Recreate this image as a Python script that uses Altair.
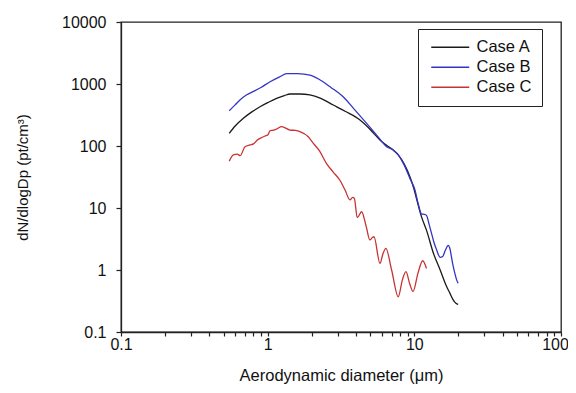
import altair as alt
import pandas as pd

series_names = ["Case A", "Case B", "Case C"]
series_colors = ["#1a1a1a", "#3434c4", "#c83232"]

case_a_x = [0.547, 0.6, 0.683, 0.78, 0.887, 1.0, 1.15, 1.3, 1.42, 1.66, 1.94, 2.28, 2.8, 3.4, 4.26, 5.0,
            5.83, 6.5, 7.18, 7.77, 8.5, 9.33, 9.9, 10.4, 11.2, 12.1, 13.5, 15.0, 16.6, 17.5, 18.4, 19.2, 19.9]
case_a_y = [160, 210, 280, 355, 430, 500, 587, 650, 690, 690, 665, 590, 458, 360, 262, 185,
            125, 102, 86, 72, 52, 32, 21, 13.5, 7.2, 4.4, 1.86, 1.0, 0.54, 0.42, 0.33, 0.29, 0.28]

case_b_x = [0.547, 0.6, 0.647, 0.72, 0.8, 0.9, 1.04, 1.2, 1.35, 1.6, 1.94, 2.28, 2.7, 3.27, 3.9, 4.73,
            5.5, 6.47, 7.1, 7.77, 8.5, 9.33, 10.1, 10.6, 11.2, 11.7, 12.1, 12.6, 13.1, 13.6, 14.2, 15.0,
            15.6, 16.3, 17.0, 17.5, 17.9, 18.4, 18.9, 19.4, 19.9]
case_b_y = [371, 460, 552, 670, 760, 880, 1088, 1290, 1470, 1465, 1390, 1160, 880, 623, 390, 232,
            153, 97.5, 88, 72, 50, 30, 19.5, 12, 8.0, 7.9, 7.6, 5.5, 3.9, 2.8, 2.1, 1.6,
            1.65, 2.1, 2.5, 2.2, 1.64, 1.15, 0.88, 0.7, 0.61]

case_c_x = [0.547, 0.583, 0.62, 0.65, 0.70, 0.757, 0.80, 0.85, 0.887, 0.96, 1.0, 1.04, 1.1, 1.15, 1.246,
            1.42, 1.55, 1.66, 1.89, 2.05, 2.25, 2.52, 2.8, 3.11, 3.37, 3.64, 3.8, 3.9, 4.08, 4.37, 4.7,
            4.98, 5.15, 5.31, 5.83, 6.1, 6.40, 7.0, 7.77, 8.3, 8.77, 9.3, 9.8, 10.6, 11.4, 12.1]
case_c_y = [57, 72, 74, 70, 97, 104, 108, 125, 133, 145, 150, 177, 180, 188, 205,
            181, 178, 170, 141, 110, 84, 52, 38, 28, 19.5, 13.5, 14.8, 14.3, 7.0, 8.7, 5.0,
            3.05, 3.3, 3.44, 1.28, 1.8, 2.24, 1.0, 0.37, 0.7, 0.94, 0.6, 0.45, 0.9, 1.41, 1.06]

x_ticks = [0.1, 0.2, 0.3, 0.4, 0.5, 0.6, 0.7, 0.8, 0.9,
           1, 2, 3, 4, 5, 6, 7, 8, 9,
           10, 20, 30, 40, 50, 60, 70, 80, 90, 100]
y_ticks = [0.1, 1, 10, 100, 1000, 10000]

rows = []
for name, xs, ys in [("Case A", case_a_x, case_a_y),
                     ("Case B", case_b_x, case_b_y),
                     ("Case C", case_c_x, case_c_y)]:
    for i, (xv, yv) in enumerate(zip(xs, ys)):
        rows.append({"series": name, "d": xv, "n": yv, "i": i})
df = pd.DataFrame(rows)

FONT = "Liberation Sans"

chart = alt.Chart(df).mark_line(strokeWidth=1.3, interpolate="monotone").encode(
    x=alt.X("d:Q",
            scale=alt.Scale(type="log", domain=[0.1, 100], nice=False),
            axis=alt.Axis(values=x_ticks,
                          title="Aerodynamic diameter (\u03bcm)",
                          labelExpr="abs(log(datum.value)/LN10 - round(log(datum.value)/LN10)) < 1e-6 ? format(datum.value, '~g') : ''",
                          labelOverlap=False, labelFlush=False,
                          labelOffset={"condition": {"test": "datum.value >= 99", "value": -6}, "value": 0},
                          tickSize=4, labelPadding=0, labelFontSize=16,
                          titleY=35, titleBaseline="top", titleFontSize=16.5,
                          grid=False)),
    y=alt.Y("n:Q",
            scale=alt.Scale(type="log", domain=[0.1, 10000], nice=False),
            axis=alt.Axis(values=y_ticks, format="~g",
                          title="dN/dlogDp (pt/cm\u00b3)",
                          labelOverlap=False, labelFlush=False,
                          tickSize=5, labelPadding=10, labelFontSize=16,
                          titleX=-91, titleY=155, titleFontSize=15,
                          grid=False)),
    color=alt.Color("series:N",
                    scale=alt.Scale(domain=series_names, range=series_colors),
                    legend=alt.Legend(title=None, orient="none", legendX=297, legendY=7,
                                      symbolType="M-1,0H6.6", symbolSize=100,
                                      symbolStrokeWidth=1.3, labelFontSize=16.5,
                                      labelFont=FONT, labelColor="#111111",
                                      labelOffset=32, padding=10, rowPadding=3,
                                      strokeColor="#222222", fillColor="white")),
    order="i:Q",
).properties(
    width=440, height=310,
    autosize=alt.AutoSizeParams(type="none"),
    padding={"left": 113, "top": 14, "right": 7, "bottom": 53},
).configure_view(
    stroke="#222222", strokeWidth=1.3
).configure_axis(
    labelFont=FONT, titleFont=FONT,
    titleFontWeight="normal", labelColor="#111111", titleColor="#111111",
    domainColor="#222222", domainWidth=1.3, tickColor="#222222", tickWidth=1.2
)

chart.save("out.html", embed_options={"renderer": "svg", "actions": False})
